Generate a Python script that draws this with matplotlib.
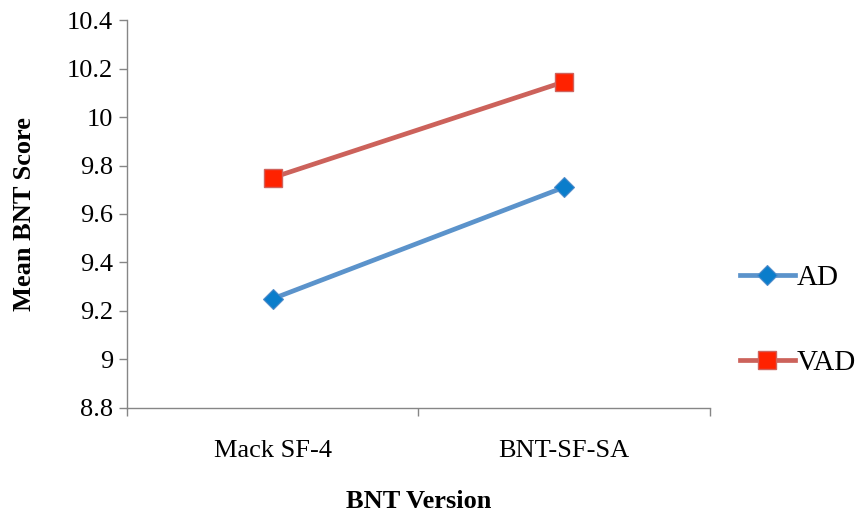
import matplotlib.pyplot as plt
import numpy as np

versions = ["Mack SF-4", "BNT-SF-SA"]
ad_scores = [9.25, 9.71]
vad_scores = [9.75, 10.145]
y_ticks = [8.8, 9, 9.2, 9.4, 9.6, 9.8, 10, 10.2, 10.4]
y_labels = ["8.8", "9", "9.2", "9.4", "9.6", "9.8", "10", "10.2", "10.4"]

plt.rcParams['font.family'] = ['Liberation Serif', 'DejaVu Serif']

fig = plt.figure(figsize=(8.58, 5.15), dpi=100)
ax = fig.add_axes([0.148, 0.208, 0.679, 0.753])

x = np.arange(len(versions))
ax.plot(x, ad_scores, color='#5B93CB', lw=3.4, marker='D', markersize=10.5,
        markerfacecolor='#0A7DCB', markeredgecolor='#4F8BC9', markeredgewidth=0.8, label='AD')
ax.plot(x, vad_scores, color='#CC625B', lw=3.4, marker='s', markersize=13,
        markerfacecolor='#FF2200', markeredgecolor='#D0625C', markeredgewidth=1.0, label='VAD')

ax.set_xlim(-0.5, 1.5)
ax.set_ylim(8.8, 10.4)
ax.set_yticks(y_ticks)
ax.set_yticklabels(y_labels, fontsize=19)
ax.set_xticks(x)
ax.set_xticklabels(versions, fontsize=19)
ax.set_xticks([-0.5, 0.5, 1.5], minor=True)
ax.tick_params(axis='x', which='major', length=0, pad=23)
ax.tick_params(axis='x', which='minor', length=6, color='#868686', width=1)
ax.tick_params(axis='y', length=6, color='#868686', width=1, pad=4)

for s in ['top', 'right']:
    ax.spines[s].set_visible(False)
for s in ['left', 'bottom']:
    ax.spines[s].set_color('#868686')
    ax.spines[s].set_linewidth(1)

ax.set_ylabel('Mean BNT Score', fontsize=19, fontweight='bold', labelpad=22)
ax.set_xlabel('BNT Version', fontsize=19, fontweight='bold', labelpad=20)

fig.legend(loc='center left', bbox_to_anchor=(0.862, 0.378), frameon=False,
           fontsize=21, labelspacing=2.0, handlelength=1.9, handletextpad=0.05,
           borderaxespad=0, borderpad=0)

fig.savefig('out.png', dpi=100)
